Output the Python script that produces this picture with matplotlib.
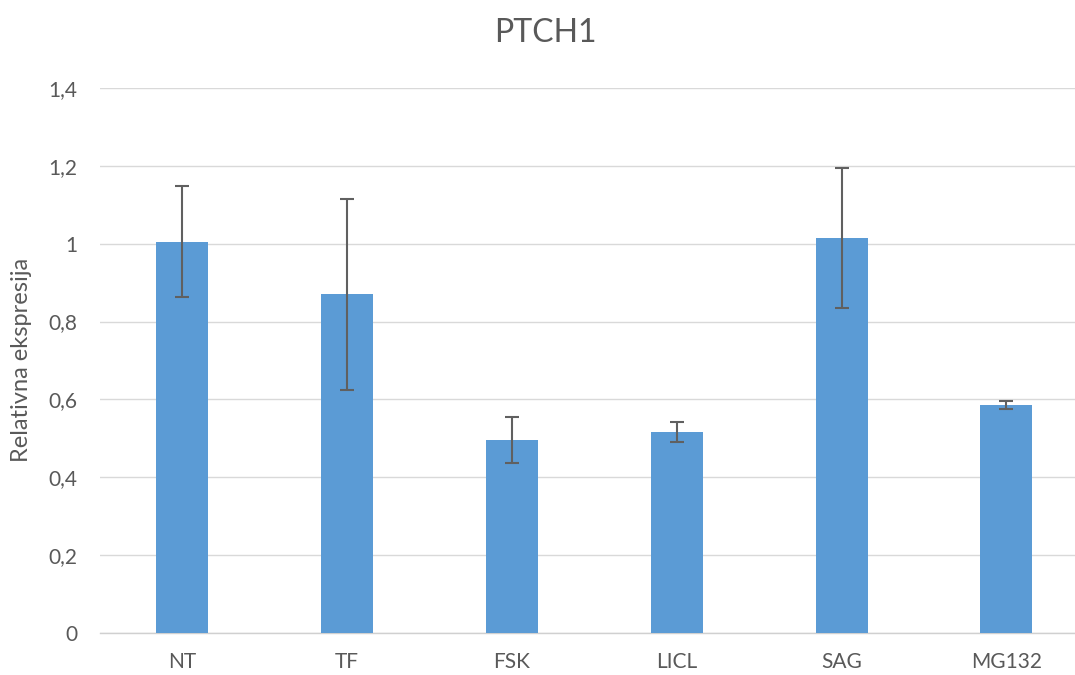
import matplotlib
matplotlib.use("Agg")
import matplotlib.pyplot as plt
import numpy as np

# data
categories = ["NT", "TF", "FSK", "LICL", "SAG", "MG132"]
values = [1.005, 0.870, 0.495, 0.516, 1.015, 0.586]
errors = [0.142, 0.246, 0.059, 0.026, 0.180, 0.010]
yticks = [0, 0.2, 0.4, 0.6, 0.8, 1.0, 1.2, 1.4]
ytick_labels = ["0", "0,2", "0,4", "0,6", "0,8", "1", "1,2", "1,4"]

plt.rcParams['font.family'] = ['Lato', 'DejaVu Sans']
grey = '#595959'

fig = plt.figure(figsize=(10.75, 6.75), dpi=100)
ax = fig.add_axes([100/1075, 42/675, 975/1075, 545/675])

x = np.arange(len(categories))
ax.bar(x, values, width=0.315, color='#5B9BD5', zorder=3)
ax.errorbar(x, values, yerr=errors, fmt='none', ecolor='#606060',
            elinewidth=1.5, capsize=5, capthick=1.5, zorder=4)

ax.set_xlim(-0.5, 5.416)
ax.set_ylim(0, 1.4)
ax.set_yticks(yticks)
ax.set_yticklabels(ytick_labels)
ax.set_xticks(x)
ax.set_xticklabels(categories)
ax.yaxis.grid(True, color='#D9D9D9', linewidth=1, zorder=0)
ax.tick_params(axis='both', length=0, labelsize=15, colors=grey)
ax.tick_params(axis='x', pad=14)
ax.tick_params(axis='y', pad=16.5)

for s in ['top', 'right', 'left']:
    ax.spines[s].set_visible(False)
ax.spines['bottom'].set_color('#D0D0D0')
ax.spines['bottom'].set_linewidth(1)

ax.set_ylabel('Relativna ekspresija', fontsize=17, color=grey)
ax.yaxis.set_label_coords(-68/975, 1 - (360-88)/545)
fig.text(545/1075, 1 - 33/675, 'PTCH1', ha='center', va='center',
         fontsize=23, color=grey)

fig.savefig('out.png', dpi=100)
